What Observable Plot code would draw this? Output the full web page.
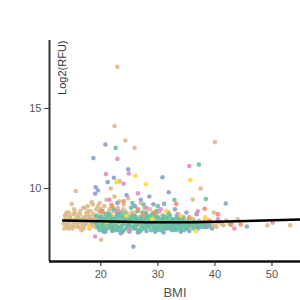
<!DOCTYPE html>
<html><head><meta charset="utf-8">
<script src="https://cdn.jsdelivr.net/npm/d3@7"></script>
<script src="https://cdn.jsdelivr.net/npm/@observablehq/plot@0.6"></script>
<style>body{margin:0;background:#fff;font-family:"Liberation Sans",Arial,sans-serif}</style>
</head><body><div id="chart"></div>
<script>
const xTicks = [20, 30, 40, 50];
const yTicks = [10, 15];
const groups = ["G1", "G2", "G3", "G4", "G5", "G6"];
const groupColors = ["#dcbb8c", "#66c2a5", "#8da0cb", "#e78ac3", "#ffd92f", "#fc8d62"];

const tanBmi = [13.6,13.8,14.0,14.2,14.4,14.6,14.8,15.0,15.2,15.4,15.6,15.6,15.8,16.0,16.2,16.4,16.6,16.8,17.0,17.2,17.4,17.6,17.8,18.0,18.2,18.4,18.6,18.8,19.0,19.2,19.4,19.6,19.8,20.0,20.2,20.4,20.6,20.8,21.0,21.2,21.4,21.6,21.8,22.0,22.2,22.4,22.6,22.8,23.0,23.2,23.4,23.6,23.8,24.0,24.2,24.4,24.6,24.8,25.0,25.4,25.8,26.2,26.6,27.0,27.4,27.8,28.2,28.6,29.0,29.4,29.8,30.2,30.6,31.0,31.4,31.8,32.2,32.6,33.0,33.4,33.8,34.2,34.6,35.0,35.4,35.8,36.2,36.6,37.0,37.4,37.8,38.2,38.6,39.0,39.4,40.0,40.6,41.2,42.0,44.0,49.2,53.2,
  14.1,14.5,15.1,15.5,16.1,16.5,17.1,17.5,18.1,18.5,19.1,19.5,20.1,20.5,21.1,21.5,22.1,22.5,23.1,13.9,14.9,18.4,16.9,17.7,15.3,
  13.7,14.3,14.7,15.7,16.3,16.7,17.3,17.9,18.3,18.7,19.3,19.7,20.3,20.9,21.3,21.9,22.3,22.7,23.5,23.9,24.5,25.2,25.6,26.0,26.4,26.8,27.2,27.6,28.0,28.4,28.8,29.2,29.6,30.0,30.4,30.8,31.2,31.6,32.0,32.4,32.8,33.2,33.6,34.0,34.4,34.8,35.2,35.6,36.0,36.4,36.8,37.2,37.6,38.0,38.4,38.8,39.2,39.8,40.3,41.0,
  13.5,14.0,15.0,16.0,17.0,18.0,19.0,20.0,21.0,22.0,
  13.6,14.4,15.2,15.9,16.6,17.4,18.2,18.9,19.6,20.5,21.4,22.2,35.0,36.0,37.0,38.0,39.0,40.0,41.5,42.5,43.0,
  22.9,22.4,24.3,25.9,40.0,23.3,21.75,37.5,36.1,39.8,20.05];
const tanRfu = [7.9,8.1,7.7,8.0,7.8,8.2,7.6,8.0,8.4,7.9,9.85,8.1,7.7,8.3,7.9,8.6,8.0,7.6,8.2,8.8,7.8,8.4,8.0,7.5,8.6,8.1,9.0,7.8,8.3,8.7,7.6,8.2,9.1,7.9,8.5,7.4,8.9,8.1,9.3,7.7,8.4,8.0,9.0,7.6,8.6,9.5,8.2,7.8,8.8,9.2,8.4,7.5,8.0,9.0,8.6,7.9,8.3,9.4,7.7,8.5,8.9,7.8,8.2,9.1,7.6,8.4,8.0,8.7,7.7,8.2,7.9,8.5,7.6,8.1,7.8,8.3,7.7,8.0,7.6,8.2,7.9,7.7,8.0,7.6,7.9,7.7,8.1,7.8,7.6,7.9,7.7,8.0,7.8,7.6,7.9,7.7,7.9,7.8,8.0,8.08,7.7,7.7,
  7.6,8.3,7.7,8.5,7.6,8.1,7.7,8.5,8.2,7.7,8.0,8.9,8.3,7.7,8.0,8.7,8.1,7.4,8.2,8.4,9.04,9.15,8.8,8.9,8.7,
  8.3,7.5,8.0,7.9,8.4,7.8,8.0,8.6,7.9,8.4,7.8,8.5,8.0,7.6,8.5,8.3,7.9,8.5,8.1,8.7,8.5,8.2,7.9,8.5,8.0,7.7,8.3,8.8,7.8,8.3,7.9,8.5,7.8,8.2,7.9,8.3,7.6,8.0,8.4,7.8,7.7,8.0,7.8,8.1,7.8,7.7,8.0,7.8,7.6,7.9,7.7,8.0,7.7,7.9,7.6,7.8,7.7,7.8,7.6,7.9,
  7.8,8.5,7.5,7.6,7.5,8.3,7.6,8.7,7.8,8.8,
  7.5,8.5,7.6,8.2,7.4,8.2,7.7,8.1,7.5,8.3,7.5,8.2,7.8,8.0,7.8,7.7,7.9,7.8,7.7,7.8,7.9,
  17.6,13.9,13.0,12.54,12.9,10.46,10.0,10.0,9.31,8.5,6.8];

const tealBmi = [19.0,19.5,20.0,20.5,21.0,21.5,22.0,22.5,23.0,23.5,24.0,24.5,25.0,25.5,26.0,26.5,27.0,27.5,28.0,28.5,29.0,29.5,30.0,30.5,31.0,31.5,32.0,32.5,33.0,33.5,34.0,34.5,35.0,36.0,37.0,38.0,
  19.2,19.8,20.3,20.8,21.3,21.8,22.3,22.8,23.3,23.8,24.3,24.8,25.3,25.8,26.3,26.8,27.3,27.8,28.3,28.8,29.3,29.8,30.3,30.8,31.3,31.8,32.3,32.8,33.3,33.8,34.3,34.8,35.5,36.5,37.5,38.5,
  20.1,21.1,22.1,23.1,24.1,25.1,26.1,27.1,28.1,29.1,30.1,31.1,32.1,33.1,34.1,20.7,21.7,22.7,23.7,24.7,25.7,26.7,27.7,28.7,29.7,30.7,31.7,32.7,33.7,
  19.6,20.2,20.9,21.4,21.9,22.4,22.9,23.4,23.9,24.4,24.9,25.4,25.9,26.4,26.9,27.4,27.9,28.4,28.9,29.4,29.9,30.4,30.9,31.4,31.9,32.4,32.9,33.4,33.9,34.4,34.9,35.3,35.8,36.3,37.2,38.2,39.0,
  20.4,21.6,22.6,23.6,24.6,25.6,26.6,27.6,28.6,29.6,30.6,31.6,32.6,33.6,34.6,
  19.4,20.6,21.2,22.2,23.2,24.2,25.2,26.2,27.2,28.2,29.2,30.2,31.2,32.2,33.2,34.2,35.2,36.2,37.4,19.9,21.0,22.0,23.0,24.0,25.0,26.0,27.0,28.0,29.0,30.0,31.0,32.0,33.0,34.0,35.0,36.8,
  22.6,32.9,37.2,38.4,25.5,27.5,30.0];
const tealRfu = [7.9,7.6,8.2,7.8,7.5,8.4,7.9,8.1,7.6,8.5,7.8,8.0,7.4,8.3,7.7,8.6,7.9,7.5,8.2,7.7,8.4,7.6,8.0,7.8,8.3,7.5,7.9,8.1,7.7,8.0,7.6,8.2,7.8,7.7,7.9,7.6,
  8.3,7.4,8.6,7.3,8.0,7.6,8.7,7.4,8.0,7.3,8.4,7.6,8.8,7.5,8.1,7.3,8.5,7.8,8.0,7.4,7.9,8.6,7.5,8.1,7.7,8.5,7.6,7.8,8.3,7.5,7.9,7.6,8.0,7.6,7.8,7.7,
  7.7,8.2,7.5,7.9,8.1,7.8,7.5,8.2,7.6,8.0,7.7,7.9,8.3,7.5,7.8,8.0,7.8,8.2,7.7,8.3,7.6,7.9,8.0,8.2,7.5,7.9,7.6,7.9,7.7,
  8.0,7.5,8.4,7.7,8.1,7.7,8.4,7.6,8.2,7.5,8.1,7.6,8.3,7.8,8.1,7.7,8.5,7.6,8.1,7.7,8.2,7.7,8.0,8.2,7.8,8.0,7.6,7.8,8.1,7.7,7.9,7.6,7.8,7.9,7.7,7.8,7.7,
  8.1,8.2,7.6,8.3,7.7,8.1,7.4,8.1,7.9,8.3,7.4,8.1,7.7,8.2,7.4,
  7.7,7.5,7.8,8.0,7.4,7.9,8.0,7.7,7.6,8.3,7.5,8.1,7.5,8.0,7.4,8.0,7.7,7.5,7.6,8.2,8.0,7.4,8.3,7.4,7.9,8.2,7.4,7.9,7.8,7.4,7.6,7.5,8.1,7.4,7.5,7.8,
  12.54,9.3,11.5,9.35,9.1,9.0,8.9];

const blueBmi = [20.8,18.7,24.8,22.3,21.2,30.8,19.1,19.0,19.5,31.9,31.1,29.2,41.9,25.7,45.6,36.8,20.5,22.0,23.5,25.0,26.5,28.0,29.5,31.0,32.5,34.0,35.5,37.0,38.5,39.5,26.0,27.0,24.5,28.5,33.0,35.0,22.9];
const blueRfu = [12.75,11.9,11.2,10.67,10.4,10.7,10.08,9.67,9.88,9.77,9.04,9.02,9.06,6.37,7.63,8.4,7.3,7.35,7.2,7.3,7.25,7.35,7.3,7.25,7.4,7.3,7.35,7.5,7.6,7.5,8.9,9.3,9.6,9.5,8.7,8.5,9.1];

const pinkBmi = [22.9,20.9,24.9,24.0,35.5,19.0,43.4,50.1,37.0,21.5,26.5,28.0,23.0,30.5,33.5,25.0,40.5];
const pinkRfu = [11.85,10.9,10.94,10.3,11.4,7.0,7.5,7.87,8.58,9.3,9.7,8.8,8.6,8.7,8.4,7.4,8.1];

const yellowBmi = [26.1,22.8,27.9,35.7,36.6,24.5,29.0,31.5,34.0,38.3,21.0,18.0];
const yellowRfu = [10.8,10.4,10.27,10.54,7.33,8.3,8.1,8.6,8.3,8.2,7.9,7.6];

const orangeBmi = [33.2,38.2,40.5,44.5,42.8,22.0,24.0,26.5,29.5,35.5,39.0,20.0,27.5];
const orangeRfu = [9.04,8.73,8.4,7.75,7.73,8.9,9.2,8.7,8.5,8.2,8.0,8.6,8.4];

const fitBmi = [13.4, 20, 28, 36, 44, 55];
const fitRfu = [8.0, 7.96, 7.9, 7.9, 7.96, 8.07];

const series = [[tanBmi,tanRfu],[tealBmi,tealRfu],[blueBmi,blueRfu],[pinkBmi,pinkRfu],[yellowBmi,yellowRfu],[orangeBmi,orangeRfu]];
const pts = [];
series.forEach(([bx, ry], gi) => bx.forEach((b, i) => pts.push({bmi: b, rfu: ry[i], g: groups[gi]})));
const fit = fitBmi.map((b, i) => ({bmi: b, rfu: fitRfu[i]}));

const chart = Plot.plot({
  width: 300, height: 300,
  marginLeft: 49, marginRight: 0, marginTop: 40, marginBottom: 39,
  style: {fontFamily: '"Liberation Sans", Arial, sans-serif', background: "#fff"},
  x: {domain: [11, 55]},
  y: {domain: [5.44, 19.25]},
  color: {type: "ordinal", domain: groups, range: groupColors},
  marks: [
    Plot.dot(pts, {x: "bmi", y: "rfu", fill: "g", r: 2.3, fillOpacity: 0.9, clip: true}),
    Plot.line(fit, {x: "bmi", y: "rfu", stroke: "#000", strokeWidth: 2.5, clip: true}),
    Plot.ruleX([11], {stroke: "#333", strokeWidth: 2}),
    Plot.ruleY([5.44], {stroke: "#111", strokeWidth: 2.5}),
    Plot.axisX(xTicks, {tickSize: 5, tickPadding: 4, label: null, fontSize: 11, color: "#555", stroke: "#222"}),
    Plot.axisY(yTicks, {tickSize: 5, tickPadding: 3, label: null, fontSize: 11, color: "#555", stroke: "#444"}),
    Plot.text(["Log2(RFU)"], {frameAnchor: "top-left", dx: 13, rotate: -90, textAnchor: "end", lineAnchor: "middle", fontSize: 11, fill: "#333"}),
    Plot.text(["BMI"], {frameAnchor: "bottom", dy: 31, fontSize: 13, fill: "#555", lineAnchor: "middle"})
  ]
});
document.getElementById("chart").appendChild(chart);
</script></body></html>
